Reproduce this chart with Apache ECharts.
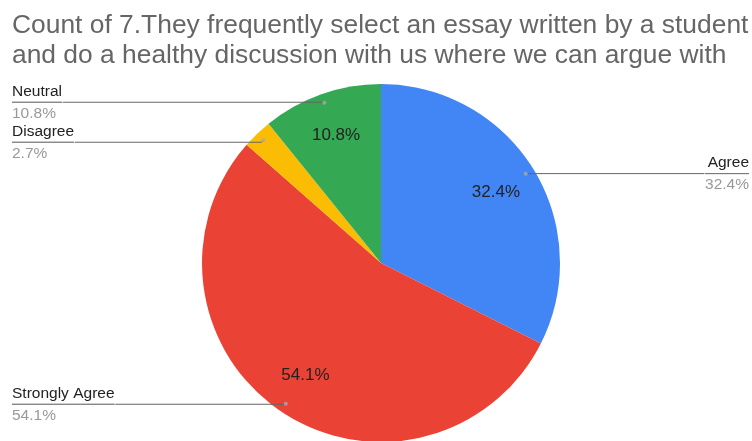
<!DOCTYPE html>
<html><head><meta charset="utf-8">
<script src="https://cdn.jsdelivr.net/npm/echarts@6/dist/echarts.min.js"></script>
<style>html,body{margin:0;padding:0;background:#fff}#c{width:752px;height:441px}</style>
</head><body><div id="c"></div>
<script>
const titleLines = ['Count of 7.They frequently select an essay written by a student', 'and do a healthy discussion with us where we can argue with'];
const categories = ['Agree', 'Strongly Agree', 'Disagree', 'Neutral'];
const counts = [12, 20, 1, 4];
const colors = ['#4285F4', '#EA4335', '#FBBC04', '#34A853'];

const data = categories.map((c, i) => ({ name: c, value: counts[i] }));
const total = counts.reduce((a, b) => a + b, 0);
let acc = 0;
const dotData = counts.map(v => { const mid = acc + v / 2; acc += v; return [1, mid]; });
const FONT = '"Liberation Sans", Arial, sans-serif';
const chart = echarts.init(document.getElementById('c'), null, { renderer: 'canvas' });
const cx = 381, cy = 263, R = 179, RL = 170;
chart.setOption({
  animation: false,
  backgroundColor: '#fff',
  color: colors,
  title: {
    text: titleLines.join('\n'),
    left: 7, top: 6,
    textStyle: { fontFamily: FONT, fontSize: 26.4, fontWeight: 'normal', color: '#666', lineHeight: 30 }
  },
  polar: { center: [cx, cy], radius: RL },
  angleAxis: { type: 'value', min: 0, max: total, startAngle: 90, clockwise: true, show: false },
  radiusAxis: { type: 'value', min: 0, max: 1, show: false },
  series: [
    {
      type: 'pie', silent: true, z: 1,
      center: [cx, cy], radius: R,
      startAngle: 90, clockwise: true,
      data: data,
      label: { show: false }, labelLine: { show: false }
    },
    {
      type: 'pie', silent: true, z: 3,
      center: [cx, cy], radius: [100, 164],
      startAngle: 90, clockwise: true,
      percentPrecision: 1,
      minShowLabelAngle: 15,
      data: data,
      itemStyle: { color: 'rgba(0,0,0,0)' },
      label: { show: true, position: 'inside', formatter: '{d}%', fontFamily: FONT, fontSize: 17, color: '#222' },
      labelLine: { show: false }
    },
    {
      type: 'pie', silent: true, z: 4,
      left: 6, right: -3, top: 0, bottom: 0,
      center: [cx - 6, cy], radius: RL,
      startAngle: 90, clockwise: true,
      percentPrecision: 1,
      avoidLabelOverlap: true,
      data: data,
      itemStyle: { color: 'rgba(0,0,0,0)', borderWidth: 0 },
      label: {
        show: true, position: 'outside', alignTo: 'edge', edgeDistance: 6, distanceToLabelLine: 0,
        formatter: '{n|{b}}\n{hr|}\n{p|{d}%}',
        rich: {
          n: { fontFamily: FONT, fontSize: 15.5, color: '#222', lineHeight: 22 },
          hr: { width: '100%', height: 0, borderWidth: 0.7, borderColor: '#666' },
          p: { fontFamily: FONT, fontSize: 15.5, color: '#999', lineHeight: 22 }
        }
      },
      labelLine: { show: true, length: 0.5, length2: 10, minTurnAngle: 0, lineStyle: { color: '#666', width: 1, opacity: 1 } }
    },
    {
      type: 'scatter', coordinateSystem: 'polar', silent: true,
      data: dotData, symbolSize: 4, z: 5,
      itemStyle: { color: '#aaa' }
    }
  ]
});
</script></body></html>
